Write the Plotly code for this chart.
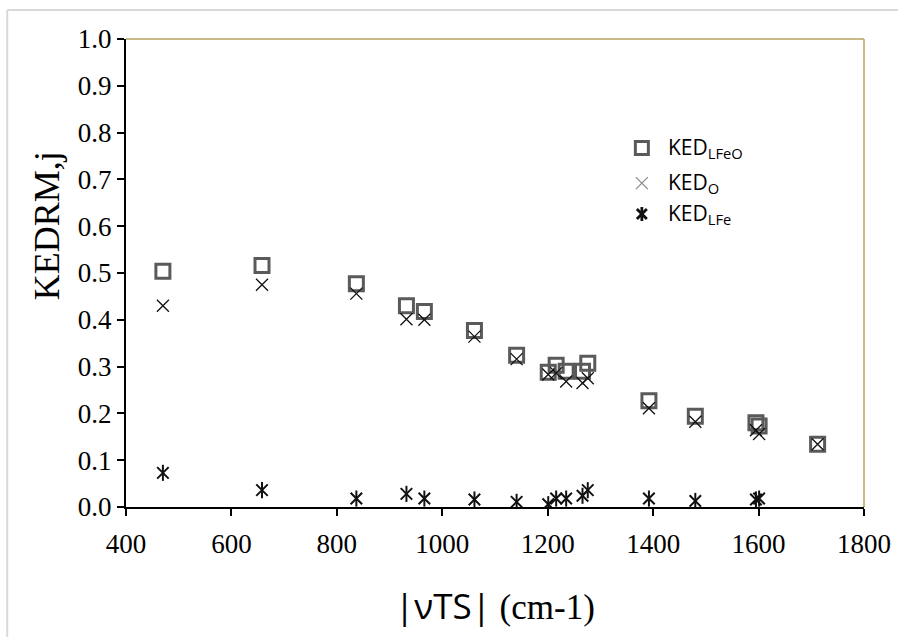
import plotly.graph_objects as go

# ---- data ----
freq = [470, 658, 837, 932, 966, 1061, 1141, 1201, 1216, 1235, 1266, 1276,
        1392, 1480, 1595, 1601, 1712]
ked_lfeo = [0.504, 0.516, 0.477, 0.430, 0.418, 0.377, 0.324, 0.288, 0.303,
            0.290, 0.290, 0.307, 0.227, 0.194, 0.180, 0.173, 0.134]
ked_o = [0.430, 0.475, 0.456, 0.401, 0.400, 0.364, 0.316, 0.283, 0.286,
         0.268, 0.265, 0.275, 0.211, 0.182, 0.164, 0.156, 0.134]
ked_lfe = [0.073, 0.036, 0.018, 0.028, 0.018, 0.016, 0.011, 0.006, 0.018,
           0.018, 0.024, 0.036, 0.018, 0.013, 0.016, 0.018, None]

x_ticks = [400, 600, 800, 1000, 1200, 1400, 1600, 1800]
y_ticks = [0.0, 0.1, 0.2, 0.3, 0.4, 0.5, 0.6, 0.7, 0.8, 0.9, 1.0]
legend_names = ["KED<sub>LFeO</sub>", "KED<sub>O</sub>", "KED<sub>LFe</sub>"]
legend_y = [0.767, 0.692, 0.626]

SERIF = "Liberation Serif"
SANS = "Open Sans"
GOLD = "#b8a35e"
SQ = "#5a5a5a"
BLK = "#111111"

fig = go.Figure()

fig.add_trace(go.Scatter(
    x=freq, y=ked_lfeo, mode="markers", showlegend=False,
    marker=dict(symbol="square-open", size=14, color=SQ,
                line=dict(width=3, color=SQ))))
fig.add_trace(go.Scatter(
    x=freq, y=ked_o, mode="markers", showlegend=False,
    marker=dict(symbol="x-thin-open", size=12, color=BLK,
                line=dict(width=1.3, color=BLK))))
fig.add_trace(go.Scatter(
    x=freq, y=ked_lfe, mode="markers", showlegend=False,
    marker=dict(symbol="x-thin-open", size=11.5, color=BLK,
                line=dict(width=2, color=BLK))))
fig.add_trace(go.Scatter(
    x=freq, y=ked_lfe, mode="markers", showlegend=False,
    marker=dict(symbol="line-ns-open", size=11.5, color=BLK,
                line=dict(width=2, color=BLK))))

# ---- manual legend on an overlay axis ----
lx = 0.699
fig.add_trace(go.Scatter(
    x=[lx], y=[legend_y[0]], xaxis="x2", yaxis="y2", mode="markers",
    showlegend=False, hoverinfo="skip",
    marker=dict(symbol="square-open", size=13, color=SQ,
                line=dict(width=3, color=SQ))))
fig.add_trace(go.Scatter(
    x=[lx], y=[legend_y[1]], xaxis="x2", yaxis="y2", mode="markers",
    showlegend=False, hoverinfo="skip",
    marker=dict(symbol="x-thin-open", size=12, color="#8c8c8c",
                line=dict(width=1.3, color="#8c8c8c"))))
for sym in ["x-thin-open", "line-ns-open"]:
    fig.add_trace(go.Scatter(
        x=[lx], y=[legend_y[2]], xaxis="x2", yaxis="y2", mode="markers",
        showlegend=False, hoverinfo="skip",
        marker=dict(symbol=sym, size=10, color=BLK,
                    line=dict(width=2.8, color=BLK))))

annotations = []
for name, ly in zip(legend_names, legend_y):
    annotations.append(dict(
        x=0.732, y=ly, xref="x2", yref="y2", text=name, showarrow=False,
        xanchor="left", yanchor="middle",
        font=dict(family=SANS, size=21, color="#000000")))

annotations.append(dict(
    x=-0.107, y=0.60, xref="paper", yref="paper", text="KEDRM,j",
    showarrow=False, textangle=-90, xanchor="center", yanchor="middle",
    font=dict(family=SERIF, size=36, color="#000000")))
annotations.append(dict(
    x=0.5, y=-0.21, xref="paper", yref="paper",
    text="<span style='font-family:Open Sans'>|νTS|</span> (cm-1)",
    showarrow=False, xanchor="center", yanchor="middle",
    font=dict(family=SERIF, size=35, color="#000000")))

shapes = [
    # top and right plot borders (gold)
    dict(type="line", xref="paper", yref="paper", x0=0, x1=1, y0=1, y1=1,
         line=dict(color=GOLD, width=1.5)),
    dict(type="line", xref="paper", yref="paper", x0=1, x1=1, y0=0, y1=1,
         line=dict(color=GOLD, width=1.5)),
    # outer light-grey frame
    dict(type="line", xref="paper", yref="paper", x0=-0.161, x1=1.1,
         y0=1.062, y1=1.062, line=dict(color="#d9d9d9", width=2)),
    dict(type="line", xref="paper", yref="paper", x0=-0.161, x1=-0.161,
         y0=-0.35, y1=1.062, line=dict(color="#d9d9d9", width=2)),
]

fig.update_layout(
    width=898, height=637,
    margin=dict(l=126, r=34, t=39, b=130),
    paper_bgcolor="white", plot_bgcolor="white",
    showlegend=False,
    font=dict(family=SERIF),
    xaxis=dict(range=[400, 1800], tickvals=x_ticks, ticks="outside",
               ticklen=7, tickwidth=1.5, tickcolor="#000000",
               ticklabelstandoff=5, automargin=False,
               showline=True, linecolor="#000000", linewidth=2,
               showgrid=False, zeroline=False,
               tickfont=dict(family=SERIF, size=27, color="#000000")),
    yaxis=dict(range=[0, 1], tickvals=y_ticks, tickformat=".1f",
               ticks="outside", ticklen=7, tickwidth=1.5, automargin=False,
               tickcolor="#000000", showline=True, linecolor="#000000",
               linewidth=2, showgrid=False, zeroline=False,
               tickfont=dict(family=SERIF, size=27, color="#000000")),
    xaxis2=dict(range=[0, 1], overlaying="x", visible=False),
    yaxis2=dict(range=[0, 1], overlaying="y", visible=False),
    annotations=annotations,
    shapes=shapes,
)

fig.write_html("out.html")
